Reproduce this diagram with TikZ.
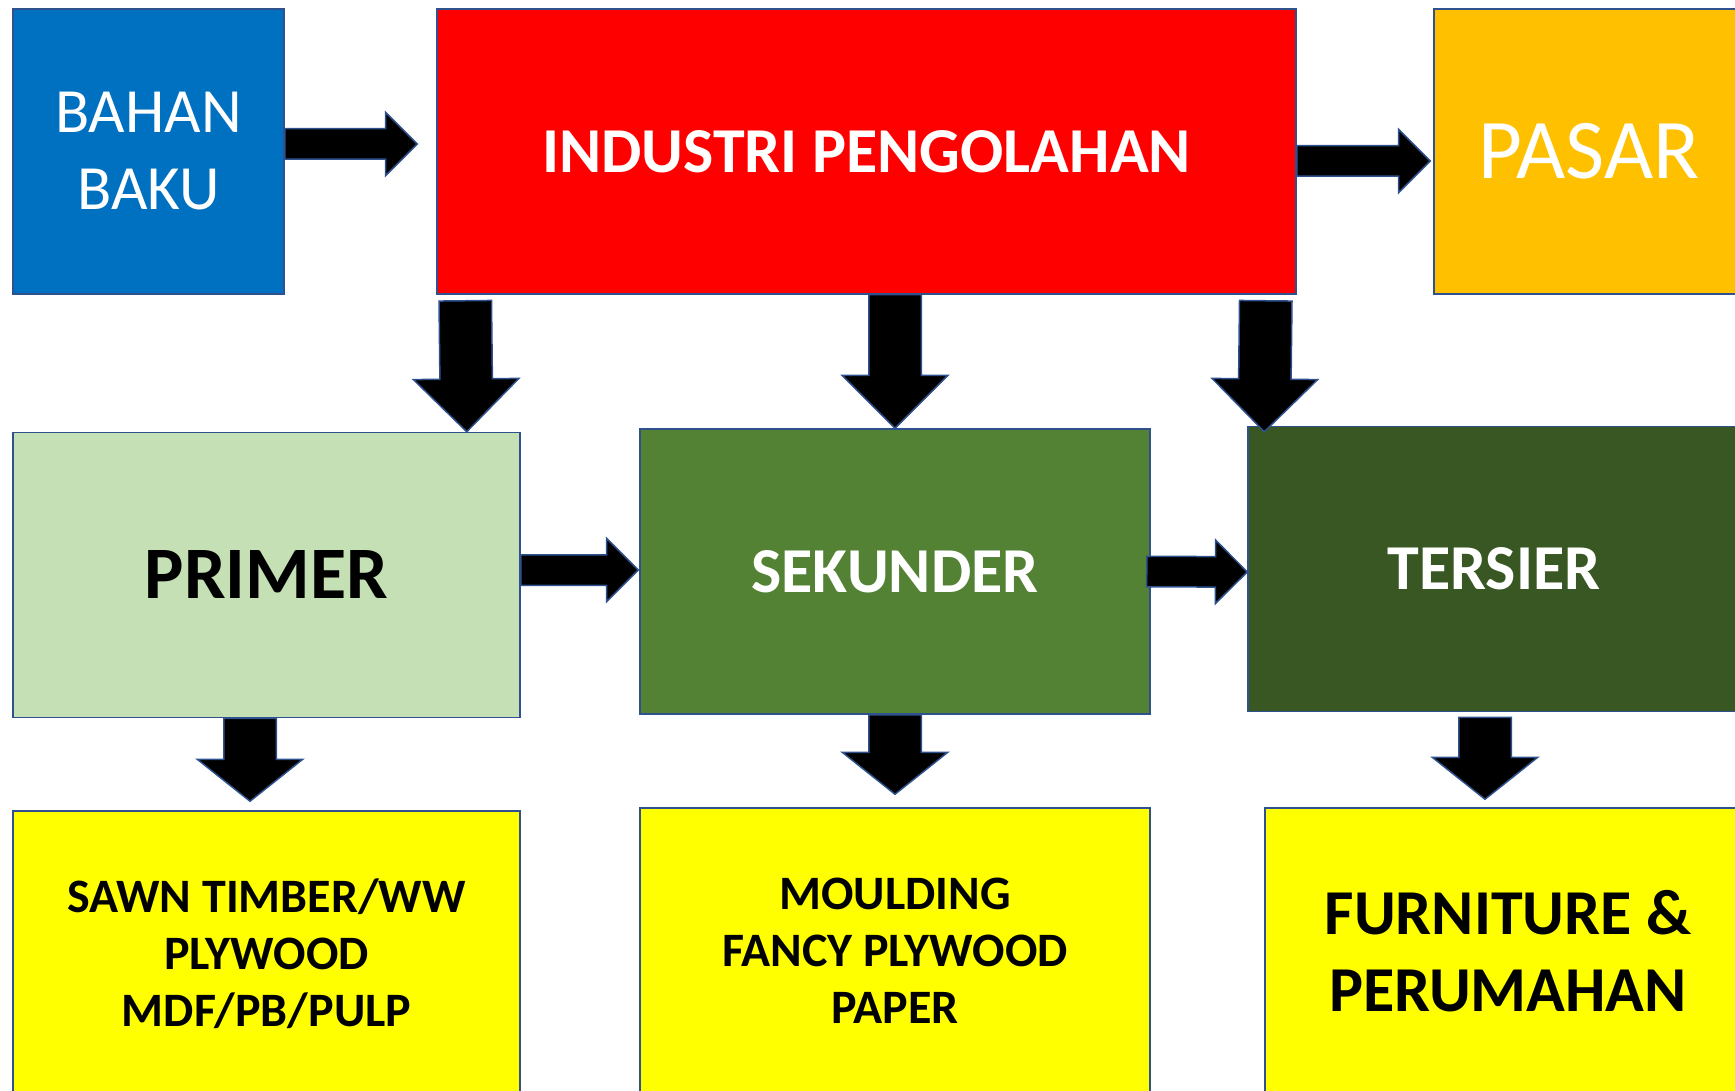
\documentclass[tikz,border=0pt]{standalone}
\usepackage{fontspec}
\setmainfont{Carlito}
\usepackage{tikz}
\usetikzlibrary{positioning,calc,shapes.arrows}
\definecolor{BahanBlue}{HTML}{0070C0}
\definecolor{IndustriRed}{HTML}{FF0000}
\definecolor{PasarGold}{HTML}{FFC000}
\definecolor{PrimerGreen}{HTML}{C5E0B4}
\definecolor{SekunderGreen}{HTML}{548235}
\definecolor{TersierGreen}{HTML}{385723}
\definecolor{ProdukYellow}{HTML}{FFFF00}
\definecolor{EdgeBlue}{HTML}{2F528F}

\begin{document}
\begin{tikzpicture}[x=1pt,y=-1pt,
  box/.style={draw=EdgeBlue,line width=1.5pt,inner sep=0pt,align=center,text=white},
  stage/.style={box,minimum width=#1,minimum height=285pt},
  produk/.style={box,fill=ProdukYellow,text=black,minimum width=#1,minimum height=286pt},
  blockarrow/.style={single arrow,draw=EdgeBlue,fill=black,line width=1.5pt,
    single arrow head indent=0pt,minimum width=0pt,inner xsep=0pt,outer sep=0pt},
  thinarrow/.style={blockarrow,inner ysep=14.5pt,single arrow head extend=16.5pt},
  widearrow/.style={blockarrow,inner ysep=25.5pt,single arrow head extend=26.5pt},
  flatarrow/.style={widearrow,single arrow tip angle=103},
  link/.style={to path={let \p1=($(\tikztotarget)-(\tikztostart)$),
    \n1={atan2(\y1,\x1)}, \n2={veclen(\x1,\y1)} in
    node[#1,minimum height=\n2,rotate=\n1,anchor=tail] at (\tikztostart) {}}}
]
\useasboundingbox (0,0) rectangle (1735,1091);
\clip (0,0) rectangle (1735,1091);

% top row
\node[stage=271pt,fill=BahanBlue,font=\fontsize{63}{77}\selectfont] (bahan) at (148.5,151.5) {BAHAN\\BAKU};
\node[stage=859pt,fill=IndustriRed,font=\bfseries\fontsize{64}{80}\selectfont] (industri) at (866.5,151.5) {INDUSTRI PENGOLAHAN};
\node[stage=310pt,fill=PasarGold,font=\fontsize{85}{100}\selectfont] (pasar) at (1589,151.5) {PASAR};

% middle row
\node[stage=507pt,fill=PrimerGreen,text=black,font=\bfseries\fontsize{74}{90}\selectfont] (primer) at (266.5,575) {PRIMER};
\node[stage=510pt,fill=SekunderGreen,font=\bfseries\fontsize{64}{80}\selectfont] (sekunder) at (895,571.5) {SEKUNDER};
\node[stage=492pt,fill=TersierGreen,font=\bfseries\fontsize{64}{80}\selectfont] (tersier) at (1494,569) {TERSIER};

% products
\node[produk=507pt,font=\bfseries\fontsize{48}{57}\selectfont] (sawn) at (266.5,954) {SAWN TIMBER/WW\\PLYWOOD\\MDF/PB/PULP};
\node[produk=510pt,font=\bfseries\fontsize{48}{57}\selectfont] (moulding) at (895,951) {MOULDING\\FANCY PLYWOOD\\PAPER};
\node[produk=486pt,font=\bfseries\fontsize{64}{77}\selectfont] (furniture) at (1508,951) {FURNITURE \&\\PERUMAHAN};

% arrows
\path ([yshift=7.5pt]bahan.east) to[link=thinarrow] ([xshift=-19pt,yshift=7.5pt]industri.west);
\path ([yshift=-9.5pt]industri.east) to[link=thinarrow] ([xshift=-3pt,yshift=-9.5pt]pasar.west);
\path ([xshift=29pt,yshift=-6pt]industri.south west) to[link=widearrow] ([xshift=-54pt]primer.north east);
\path (sekunder.north |- industri.south) to[link=widearrow] (sekunder.north);
\path ([xshift=-31pt,yshift=-6pt]industri.south east) to[link=widearrow] ([xshift=17pt,yshift=-6pt]tersier.north west);
\path ([yshift=5pt]primer.east) to[link=thinarrow] ([xshift=-1pt,yshift=1.5pt]sekunder.west);
\path ([xshift=-4pt]sekunder.east) to[link=thinarrow] ([yshift=-3pt]tersier.west);
\path ([xshift=-16.5pt]primer.south) to[link=flatarrow] ([xshift=-16.5pt,yshift=9pt]sawn.north);
\path (sekunder.south) to[link=flatarrow] ([yshift=13pt]moulding.north);
\path ([xshift=-9pt,yshift=-5pt]tersier.south) to[link=flatarrow] ([xshift=-23pt,yshift=8pt]furniture.north);
\end{tikzpicture}
\end{document}
